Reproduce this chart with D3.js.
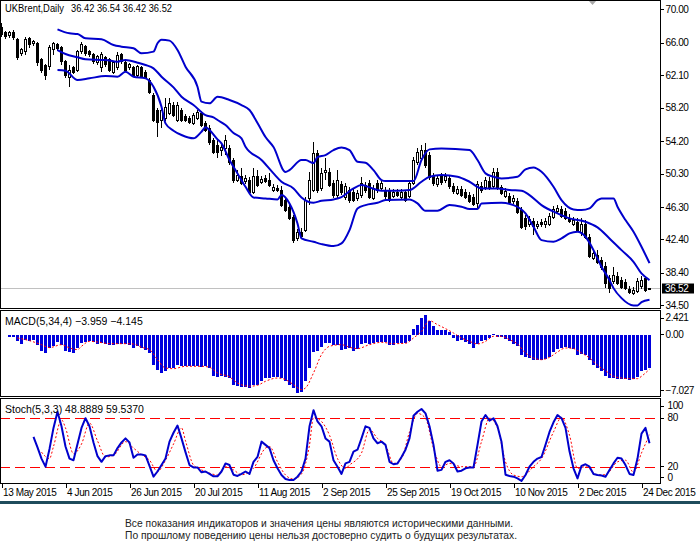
<!DOCTYPE html>
<html>
<head>
<meta charset="utf-8">
<script src="https://cdnjs.cloudflare.com/ajax/libs/d3/7.8.5/d3.min.js"></script>
<style>
  body { margin: 0; background: #fff; }
  svg { display: block; }
  text { font-family: "Liberation Sans", Arial, sans-serif; }
</style>
</head>
<body>
<svg id="chart" width="700" height="552"></svg>
<script>
// ---- data ----
var openP = [67.76,67.16,66.80,67.16,66.32,64.64,64.88,66.44,65.84,65.84,63.92,63.20,63.08,65.12,65.72,65.36,63.68,61.88,62.96,62.72,
  64.88,65.48,64.88,64.52,63.56,62.96,64.16,63.92,62.48,62.96,64.52,63.56,62.96,62.96,62.12,62.96,62.48,61.52,59.72,57.92,
  56.72,56.96,57.56,58.52,56.72,57.92,57.20,56.96,56.36,56.96,57.56,56.36,55.76,54.32,53.72,53.12,53.36,53.36,51.92,49.52,
  50.00,49.40,49.52,48.08,50.00,49.28,49.76,49.52,48.32,48.56,48.32,47.12,46.28,45.08,42.56,43.28,43.52,47.36,48.32,52.76,
  48.56,50.48,50.48,49.16,47.72,49.04,47.48,48.32,48.08,47.36,47.72,48.92,49.16,47.36,49.16,48.56,48.32,48.32,47.60,48.08,
  47.48,48.08,47.60,49.16,51.68,52.16,53.12,52.52,50.00,49.04,50.00,49.52,49.76,48.80,47.96,48.44,48.08,47.72,47.48,46.76,
  48.80,48.68,49.40,48.80,50.48,48.68,47.60,47.60,47.00,47.00,45.92,44.96,44.24,44.60,44.00,44.48,44.24,44.24,45.08,45.80,
  46.04,45.80,44.96,44.24,44.48,43.28,44.24,42.68,40.16,40.52,39.92,39.20,37.76,37.40,38.00,37.52,37.28,36.44,35.96,36.20,
  36.80,37.76,36.42];
var highP = [68.36,67.40,67.40,67.52,66.56,65.36,66.68,66.68,66.32,66.08,64.16,63.44,65.72,66.08,65.96,65.60,63.92,63.32,63.20,65.12,
  66.08,65.72,65.12,64.76,64.52,64.88,64.40,64.16,63.80,64.88,64.76,63.92,63.56,63.20,63.32,63.20,62.72,61.76,59.96,58.16,
  58.40,59.36,59.36,58.88,58.88,58.16,57.44,57.20,57.56,57.92,57.80,56.60,56.12,54.56,54.32,53.96,54.92,53.72,52.16,50.72,
  50.96,50.12,49.88,50.96,50.72,50.00,50.12,50.36,49.04,48.92,48.80,47.36,46.52,45.32,43.64,43.76,47.48,50.48,54.08,53.12,
  50.96,52.16,50.96,49.52,50.72,49.40,49.16,48.68,48.44,48.32,49.88,49.28,49.52,48.92,49.52,49.52,48.68,48.56,48.44,48.44,
  48.44,48.32,49.52,52.28,53.36,53.72,53.96,52.88,50.36,50.12,50.36,50.36,50.12,49.16,48.80,48.80,48.44,48.08,47.84,49.40,
  49.28,49.88,49.88,50.96,50.96,48.92,48.56,47.96,47.72,47.36,46.28,45.32,45.20,44.96,44.60,44.84,44.96,45.56,46.40,46.52,
  46.40,46.16,45.44,45.08,44.96,44.96,44.72,43.04,41.12,41.12,40.28,39.68,38.12,39.08,38.48,37.88,37.64,36.80,36.68,37.76,
  38.00,38.00,36.54];
var lowP = [66.68,66.44,66.56,66.32,63.92,64.40,64.52,65.36,65.60,63.20,62.36,61.52,62.72,64.52,65.00,63.32,61.76,60.68,62.24,62.48,
  64.64,64.40,64.28,63.44,63.32,62.48,63.08,62.48,62.24,62.72,63.44,62.48,62.72,61.88,61.88,61.76,61.64,59.84,56.48,54.68,
  55.76,56.60,57.32,57.08,56.48,56.48,56.48,56.24,56.12,56.72,55.88,55.28,53.72,52.64,52.16,52.40,52.52,51.32,49.16,49.28,
  48.92,49.04,47.84,47.84,48.68,49.04,49.16,48.68,48.08,48.08,46.28,45.68,44.72,41.96,42.20,42.56,43.28,46.52,48.08,47.96,
  48.20,49.52,48.68,47.36,47.36,47.72,47.12,46.76,46.88,47.00,47.36,47.96,47.24,47.12,47.96,48.20,47.24,46.88,47.36,47.48,
  47.24,46.88,47.36,48.92,51.32,51.80,50.96,49.52,48.80,48.68,48.92,49.16,48.44,47.84,47.72,47.48,47.24,46.76,46.40,46.16,
  47.96,48.32,48.32,48.44,48.32,47.72,47.36,46.64,46.64,45.44,43.64,43.52,43.88,42.92,43.64,43.88,43.76,44.00,44.84,45.56,
  44.96,44.72,44.36,44.00,43.28,42.80,42.44,40.16,39.92,39.44,38.72,36.56,35.96,37.04,36.92,36.44,36.32,35.84,35.72,35.96,
  36.44,36.08,36.42];
var closeP = [66.92,66.68,67.16,66.56,64.16,65.12,66.32,65.72,66.08,63.56,62.72,62.12,65.36,65.84,65.24,63.68,62.12,62.72,62.48,64.88,
  65.72,64.64,64.52,63.68,64.28,64.52,63.32,62.72,63.56,64.40,63.68,62.72,63.32,62.12,63.08,62.00,61.88,60.08,56.72,56.48,
  57.92,58.28,58.76,57.32,58.52,56.72,56.72,56.48,57.32,57.68,56.12,55.52,54.08,52.88,52.88,53.48,54.32,51.68,49.52,50.12,
  49.16,49.76,48.08,50.00,48.92,49.64,49.40,48.92,48.68,48.32,46.52,45.92,44.96,42.32,43.28,42.80,47.12,49.52,52.76,48.32,
  50.36,50.72,48.92,47.72,49.52,48.08,48.80,47.12,47.12,47.96,49.16,48.32,47.48,48.56,48.32,49.16,47.60,47.12,48.08,47.72,
  48.08,47.12,49.16,51.92,52.88,53.12,51.32,49.88,49.16,49.76,49.28,50.00,48.80,48.20,48.44,47.72,47.48,47.00,46.64,49.04,
  48.32,49.52,48.68,50.48,48.56,47.96,48.20,46.88,47.36,45.68,43.88,44.00,44.84,44.00,44.24,44.24,44.60,45.20,46.04,46.16,
  45.20,44.96,44.60,44.72,43.52,44.24,42.68,40.40,40.76,39.68,39.08,37.16,36.56,38.12,37.16,36.68,36.56,36.08,36.32,37.40,
  37.52,36.32,36.52];

// Bollinger bands, [bar index, price]
var bandUpper = [[14,67.60],[17,67.12],[19,67.04],[21,66.52],[25,66.40],[28,65.72],[30,65.52],[33,65.32],[35,64.72],[38,64.92],
  [39,65.92],[40,66.36],[42,66.24],[44,65.12],[46,63.12],[49,60.72],[50,58.92],[52,58.72],[54,59.52],[57,59.12],[60,58.52],
  [62,57.92],[64,56.36],[66,54.68],[68,53.48],[71,50.48],[72,50.72],[75,51.92],[76,51.92],[78,51.56],[79,52.28],[81,52.52],
  [83,53.12],[85,53.44],[87,53.12],[89,51.72],[91,51.60],[93,50.72],[95,49.52],[96,49.40],[103,49.40],[105,51.92],[107,53.20],
  [110,53.32],[117,53.12],[119,51.92],[121,50.32],[123,49.92],[125,49.72],[129,49.92],[131,50.80],[133,51.04],[135,50.52],
  [138,48.72],[140,47.12],[143,46.00],[145,45.92],[147,46.12],[149,47.12],[150,47.32],[153,47.32],[154,46.32],[156,44.72],
  [158,43.32],[160,41.52],[162,39.56]];
var bandMiddle = [[14,65.12],[16,64.64],[19,64.24],[21,64.00],[26,63.92],[29,63.72],[31,63.92],[34,63.60],[36,63.32],[38,62.92],
  [40,61.92],[43,60.64],[45,59.52],[48,58.52],[51,57.32],[53,57.04],[54,56.72],[56,56.12],[58,55.16],[60,54.52],[61,53.52],
  [65,51.92],[68,50.32],[70,49.32],[73,48.52],[75,47.44],[78,46.80],[80,47.04],[83,47.20],[85,47.48],[88,48.52],[90,48.92],
  [92,48.64],[95,48.24],[99,48.24],[102,48.32],[105,49.32],[107,49.92],[110,50.12],[114,49.92],[117,49.32],[120,48.52],
  [124,48.52],[127,48.32],[130,48.24],[132,47.72],[135,46.52],[139,45.52],[142,44.92],[146,44.52],[149,43.84],[152,42.52],
  [155,41.12],[158,39.72],[160,38.32],[162,37.52]];
var bandLower = [[14,62.72],[16,62.64],[19,61.52],[22,61.72],[26,62.00],[29,61.92],[31,62.52],[33,61.92],[36,61.72],[38,60.72],
  [40,58.32],[41,56.32],[43,55.44],[45,54.92],[48,54.52],[50,55.32],[51,55.84],[52,55.52],[54,54.40],[55,53.92],[57,51.92],
  [59,50.32],[61,48.72],[63,47.44],[66,47.32],[69,47.20],[70,47.72],[72,46.72],[74,44.32],[75,42.52],[78,42.12],[80,41.84],
  [83,41.60],[85,41.92],[87,43.52],[89,46.12],[91,46.52],[94,46.80],[96,47.12],[102,47.20],[104,46.72],[106,45.84],[109,45.84],
  [112,46.52],[115,46.32],[117,46.04],[119,46.04],[120,46.72],[125,46.80],[128,46.52],[131,45.52],[133,43.92],[135,42.32],
  [138,42.12],[140,42.52],[142,43.12],[144,43.32],[146,42.72],[148,41.12],[150,39.12],[152,37.52],[153,36.56],[155,35.36],
  [158,34.48],[159,34.48],[160,34.88],[162,35.16]];

var macdHist = [-0.03,-0.05,-0.20,-0.28,-0.77,-1.05,-0.57,-0.69,-0.65,-1.17,
  -1.90,-2.18,-1.57,-1.37,-0.85,-1.17,-1.90,-2.06,-2.18,-1.57,
  -0.97,-0.85,-0.77,-0.89,-1.09,-0.97,-1.05,-1.17,-1.25,-1.09,
  -1.05,-1.05,-1.17,-1.57,-1.37,-1.57,-1.77,-2.18,-3.59,-4.20,
  -4.60,-4.32,-4.00,-4.00,-3.67,-3.79,-3.79,-3.79,-3.79,-3.79,
  -3.91,-3.79,-4.00,-4.92,-5.12,-5.00,-5.12,-5.21,-6.09,-6.21,
  -6.33,-6.33,-6.42,-6.09,-6.01,-5.61,-5.21,-5.21,-5.12,-5.12,
  -5.21,-5.61,-6.09,-6.42,-7.027,-6.90,-5.61,-4.00,-2.06,-1.98,
  -1.49,-0.97,-0.97,-1.17,-1.17,-1.77,-1.65,-1.57,-1.90,-1.65,
  -1.09,-1.01,-1.09,-0.97,-0.85,-0.85,-0.89,-1.17,-1.17,-1.01,
  -1.01,-1.01,-0.69,0.77,1.25,2.06,2.421,1.65,1.05,0.65,
  0.65,0.65,0.36,-0.36,-0.69,-0.57,-0.85,-1.09,-1.57,-1.09,
  -0.77,-0.57,-0.36,0.12,-0.20,-0.28,-0.44,-0.69,-1.09,-1.37,
  -2.46,-2.70,-2.78,-3.07,-3.07,-2.99,-2.91,-2.70,-2.06,-1.65,
  -1.57,-1.49,-1.57,-1.65,-2.38,-2.30,-2.38,-2.99,-3.59,-4.00,
  -4.40,-5.00,-5.21,-5.21,-5.29,-5.33,-5.29,-5.45,-5.29,-5.12,
  -4.32,-4.25,-3.959];
var macdSignal = [[4,-0.36],[7,-0.69],[10,-1.17],[12,-1.53],[15,-1.17],[17,-1.57],[19,-1.77],[20,-1.37],[22,-0.77],[24,-0.85],
  [27,-1.05],[30,-1.05],[33,-1.09],[35,-1.49],[37,-1.77],[39,-2.99],[41,-4.00],[43,-4.08],[46,-3.79],[50,-3.79],[52,-3.91],
  [54,-4.60],[57,-5.08],[59,-5.81],[62,-6.21],[64,-6.09],[66,-5.61],[69,-5.21],[71,-5.41],[73,-6.01],[75,-6.62],[76,-6.42],
  [78,-4.60],[80,-2.38],[82,-1.37],[85,-1.17],[87,-1.49],[89,-1.65],[92,-1.17],[95,-0.89],[98,-1.05],[101,-1.01],[103,-0.36],
  [105,0.44],[107,1.73],[109,1.25],[111,0.77],[113,0.24],[115,-0.36],[117,-0.77],[119,-1.09],[121,-0.77],[123,-0.16],
  [125,-0.16],[127,-0.57],[129,-1.09],[131,-2.18],[133,-2.78],[135,-2.99],[137,-2.70],[139,-2.06],[141,-1.57],[143,-1.65],
  [145,-2.18],[147,-2.78],[149,-3.67],[151,-4.32],[153,-5.00],[155,-5.21],[157,-5.29],[159,-5.29],[160,-5.00],[161,-4.60],
  [162,-4.145]];

// stochastic %K from bar 8 on
var stochKFrom = 8;
var stochK = [57,44,30,20,42,68,88,70,45,30,28,48,68,80,70,50,33,26,33,34,
  34,43,50,55,50,31,35,35,34,21,7.6,14,22,30,51,62,71,55,38,22,
  19,19,13,14,11,8,8,14,24,22,10,8.5,11,14,11,26,32,51,47,43,
  28,18,9.7,4.7,3.5,3.5,7.6,14,30,70,90,76,70,55,51,28,20,11,24,26,
  38.6,41,55,70,68,55,49,51,47,26,23,24,32,41,55,83,88,91.5,86,70,
  47,15,16,26,28,24,14,15,18,19,19,47,76,84,77,80,70,51,10,8.5,
  7.6,5.5,2.2,9.7,20,26,30,32,47,63,75,84,80,68,39,18,5.5,21,23,20,
  11,9.7,9,7.6,16,24,31,30,22,11,9.7,30,61,68,48.8889];
var stochD = [[10,38],[12,30],[13,45],[15,78],[16,68],[18,36],[20,48],[22,74],[24,52],[26,32],[28,34],[31,51],[33,43],[35,35],
  [37,28],[39,14],[41,28],[43,48],[45,68],[46,52],[48,22],[50,16],[52,12],[54,9.7],[56,20],[58,16],[60,10],[63,18],[66,43],
  [67,45],[69,26],[71,9.7],[73,4.7],[75,11],[77,47],[78,81],[80,76],[82,59],[84,30],[86,18],[87,22],[90,37],[92,66],[94,55],
  [96,47],[98,24],[100,30],[102,63],[104,86],[106,80],[108,43],[110,20],[112,24],[115,20],[118,20],[120,51],[122,80],[124,68],
  [126,26],[128,9.7],[130,7.6],[133,20],[135,30],[138,63],[140,81],[142,59],[144,18],[146,20],[149,9.7],[151,10],[154,26],
  [156,28],[158,13],[160,37],[162,59.537]];

var priceTicks = [70.00, 66.00, 62.10, 58.20, 54.20, 50.30, 46.30, 42.40, 38.40, 34.50];
var macdTicks = [2.421, 0, -7.027];
var stochTicks = [100, 80, 20, 0];
var stochLevels = [80, 20];
var xTickIdx = [0, 16, 32, 48, 64, 80, 96, 112, 128, 144, 160];
var xTickLabels = ["13 May 2015", "4 Jun 2015", "26 Jun 2015", "20 Jul 2015", "11 Aug 2015", "2 Sep 2015",
  "25 Sep 2015", "19 Oct 2015", "10 Nov 2015", "2 Dec 2015", "24 Dec 2015"];

// ---- layout ----
var svg = d3.select("#chart");
var plotR = 660;
var pricePanel = {top: 0.5, bottom: 308.5};
var macdPanel = {top: 310.5, bottom: 396.5};
var stochPanel = {top: 398.5, bottom: 483.5};
var blue = "#0000cc";

var n = closeP.length;
var x = d3.scaleLinear().domain([0, n - 1]).range([1.5, 1.5 + 4 * (n - 1)]);
var yP = d3.scaleLinear().domain([34.5, 70]).range([305.3, 9.3]);
var yM = d3.scaleLinear().domain(d3.extent(macdHist)).range([393, 315]);
var yS = d3.scaleLinear().domain([0, 100]).range([482.8, 402.1]);

svg.append("rect").attr("width", 700).attr("height", 552).attr("fill", "#fff");

var defs = svg.append("defs");
[["clipP", pricePanel], ["clipM", macdPanel], ["clipS", stochPanel]].forEach(function(c) {
  defs.append("clipPath").attr("id", c[0]).append("rect")
    .attr("x", 1).attr("y", c[1].top + 0.5)
    .attr("width", plotR - 1).attr("height", c[1].bottom - c[1].top - 1);
});

// ---- price panel ----
var gP = svg.append("g").attr("clip-path", "url(#clipP)");

// current price line
var last = closeP[n - 1];
gP.append("line")
  .attr("x1", 0).attr("x2", plotR)
  .attr("y1", Math.round(yP(last)) + 0.5).attr("y2", Math.round(yP(last)) + 0.5)
  .attr("stroke", "#c0c0c0").attr("stroke-width", 1);

// candles
var candles = gP.append("g").attr("shape-rendering", "crispEdges");
d3.range(n).forEach(function(i) {
  var o = openP[i], c = closeP[i];
  var cx = x(i);
  candles.append("line")
    .attr("x1", cx).attr("x2", cx)
    .attr("y1", yP(highP[i])).attr("y2", yP(lowP[i]))
    .attr("stroke", "#000").attr("stroke-width", 1);
  var top = yP(Math.max(o, c)), bot = yP(Math.min(o, c));
  candles.append("rect")
    .attr("x", cx - 1).attr("width", 2)
    .attr("y", top).attr("height", Math.max(bot - top, 0.5))
    .attr("fill", c < o ? "#000" : "#fff")
    .attr("stroke", "#000").attr("stroke-width", 1);
});

var bandLine = d3.line()
  .x(function(d) { return x(d[0]); })
  .y(function(d) { return yP(d[1]); })
  .curve(d3.curveMonotoneX);
[bandUpper, bandMiddle, bandLower].forEach(function(b) {
  gP.append("path").attr("d", bandLine(b))
    .attr("fill", "none").attr("stroke", blue).attr("stroke-width", 2);
});

// chart shift marker
svg.append("path").attr("d", "M588,0L597,0L592.5,5Z").attr("fill", "#a8a8a8");

// ---- MACD panel ----
var gM = svg.append("g").attr("clip-path", "url(#clipM)");
gM.append("g").attr("shape-rendering", "crispEdges")
  .selectAll("rect").data(macdHist).enter().append("rect")
  .attr("x", function(d, i) { return x(i) - 1.5; })
  .attr("width", 3)
  .attr("y", function(d) { return Math.min(yM(d), yM(0)); })
  .attr("height", function(d) { return Math.abs(yM(d) - yM(0)); })
  .attr("fill", "#0000dd");

gM.append("path")
  .attr("d", d3.line().x(function(d) { return x(d[0]); }).y(function(d) { return yM(d[1]); })
    .curve(d3.curveMonotoneX)(macdSignal))
  .attr("fill", "none").attr("stroke", "#ff0000").attr("stroke-width", 1)
  .attr("stroke-dasharray", "2,2");

// ---- Stochastic panel ----
var gS = svg.append("g").attr("clip-path", "url(#clipS)");
stochLevels.forEach(function(v) {
  gS.append("line")
    .attr("x1", 0).attr("x2", plotR)
    .attr("y1", Math.round(yS(v)) + 0.5).attr("y2", Math.round(yS(v)) + 0.5)
    .attr("stroke", "#ff0000").attr("stroke-width", 1)
    .attr("stroke-dasharray", "10,5");
});
gS.append("path")
  .attr("d", d3.line().x(function(d) { return x(d[0]); }).y(function(d) { return yS(d[1]); })
    .curve(d3.curveMonotoneX)(stochD))
  .attr("fill", "none").attr("stroke", "#ff0000").attr("stroke-width", 1)
  .attr("stroke-dasharray", "2,2");
gS.append("path")
  .attr("d", d3.line().x(function(d, i) { return x(i + stochKFrom); }).y(function(d) { return yS(d); })(stochK))
  .attr("fill", "none").attr("stroke", blue).attr("stroke-width", 2)
  .attr("stroke-linejoin", "round");

// ---- frames ----
[pricePanel, macdPanel, stochPanel].forEach(function(p) {
  svg.append("rect")
    .attr("x", 0.5).attr("y", p.top)
    .attr("width", plotR).attr("height", p.bottom - p.top)
    .attr("fill", "none").attr("stroke", "#000").attr("stroke-width", 1)
    .attr("shape-rendering", "crispEdges");
});

// ---- axes ----
function styleAxis(g) {
  g.select(".domain").remove();
  g.selectAll("line").attr("stroke", "#000").attr("shape-rendering", "crispEdges");
  g.selectAll("text").attr("fill", "#000").style("font-size", "10px")
    .style("letter-spacing", "-0.4px")
    .style("font-family", "'Liberation Sans', Arial, sans-serif");
}
function clampLabels(g, scale, panel) {
  g.selectAll(".tick").attr("transform", function(d) {
    var yy = Math.max(panel.top + 7.5, Math.min(panel.bottom - 6, scale(d)));
    return "translate(0," + yy + ")";
  });
}

var axP = svg.append("g").attr("transform", "translate(" + (plotR + 0.5) + ",0)")
  .call(d3.axisRight(yP).tickValues(priceTicks).tickFormat(d3.format(".2f")).tickSize(3).tickPadding(2));
styleAxis(axP);

var axM = svg.append("g").attr("transform", "translate(" + (plotR + 0.5) + ",0)")
  .call(d3.axisRight(yM).tickValues(macdTicks)
    .tickFormat(function(d) { return d === 0 ? "0.00" : d3.format(".3f")(d); })
    .tickSize(3).tickPadding(2));
styleAxis(axM);
clampLabels(axM, yM, macdPanel);

var axS = svg.append("g").attr("transform", "translate(" + (plotR + 0.5) + ",0)")
  .call(d3.axisRight(yS).tickValues(stochTicks).tickFormat(d3.format("d")).tickSize(3).tickPadding(4));
styleAxis(axS);
clampLabels(axS, yS, stochPanel);

var axX = svg.append("g").attr("transform", "translate(0," + stochPanel.bottom + ")")
  .call(d3.axisBottom(x).tickValues(xTickIdx)
    .tickFormat(function(d, i) { return xTickLabels[i]; }).tickSize(4));
styleAxis(axX);
axX.selectAll("text").attr("text-anchor", "start").attr("x", 1).attr("y", 12).attr("dy", 0);

// current price tag
var tagY = Math.round(yP(last));
svg.append("rect").attr("x", 662).attr("y", tagY - 4.5).attr("width", 32).attr("height", 10).attr("fill", "#000");
svg.append("text").attr("x", 665).attr("y", tagY + 4).attr("fill", "#fff")
  .style("font-size", "10px").style("letter-spacing", "-0.3px").text(d3.format(".2f")(last));

// ---- captions ----
svg.append("text").attr("x", 5).attr("y", 12).style("font-size", "10.5px").attr("fill", "#000")
  .attr("textLength", 59).attr("lengthAdjust", "spacingAndGlyphs")
  .text("UKBrent,Daily");
svg.append("text").attr("x", 71).attr("y", 12).style("font-size", "10.5px").attr("fill", "#000")
  .attr("textLength", 101).attr("lengthAdjust", "spacingAndGlyphs")
  .text([openP[n - 1], highP[n - 1], lowP[n - 1], closeP[n - 1]].map(d3.format(".2f")).join(" "));
svg.append("text").attr("x", 5).attr("y", 324.5).style("font-size", "10.5px").attr("fill", "#000")
  .text("MACD(5,34,4) " + d3.format(".3f")(macdHist[n - 1]) + " " + d3.format(".3f")(macdSignal[macdSignal.length - 1][1]));
svg.append("text").attr("x", 5).attr("y", 412.5).style("font-size", "10.5px").attr("fill", "#000")
  .text("Stoch(5,3,3) " + d3.format(".4f")(stochK[stochK.length - 1]) + " " + d3.format(".4f")(stochD[stochD.length - 1][1]));

// bottom bar and disclaimer
svg.append("rect").attr("x", 0).attr("y", 501).attr("width", 700).attr("height", 3).attr("fill", "#1f4c5c");
svg.append("text").attr("x", 125).attr("y", 527).attr("fill", "#222").style("font-size", "10.5px")
  .attr("textLength", 388).attr("lengthAdjust", "spacingAndGlyphs")
  .text("Все показания индикаторов и значения цены являются историческими данными.");
svg.append("text").attr("x", 125).attr("y", 538.5).attr("fill", "#222").style("font-size", "10.5px")
  .attr("textLength", 392).attr("lengthAdjust", "spacingAndGlyphs")
  .text("По прошлому поведению цены нельзя достоверно судить о будущих результатах.");
</script>
</body>
</html>
